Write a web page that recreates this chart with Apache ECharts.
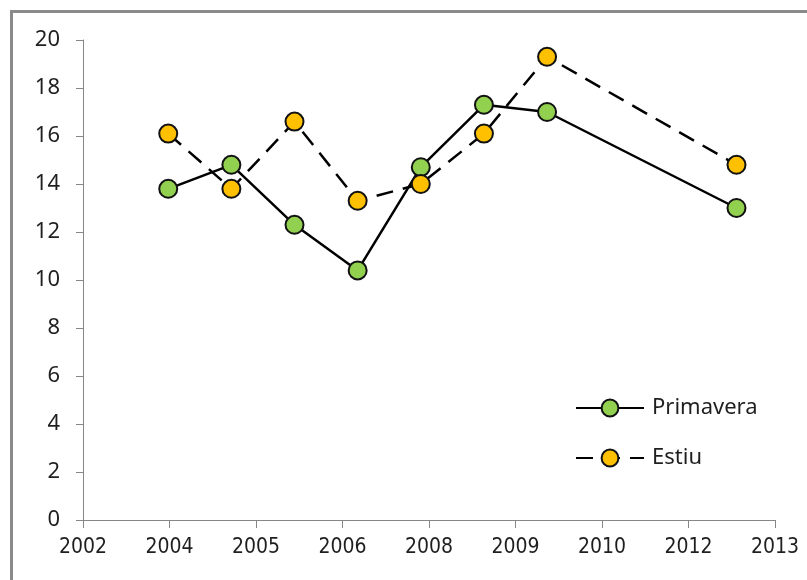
<!DOCTYPE html>
<html>
<head>
<meta charset="utf-8">
<script src="https://cdn.jsdelivr.net/npm/echarts@6/dist/echarts.min.js"></script>
<style>
  html, body { margin: 0; padding: 0; background: #fff; }
  #chart { width: 807px; height: 580px; }
</style>
</head>
<body>
<div id="chart"></div>
<script>
// Survey years and seasonal values
const years = [2004, 2005, 2006, 2007, 2008, 2009, 2010, 2013];
const primavera = [13.8, 14.8, 12.3, 10.4, 14.7, 17.3, 17.0, 13.0];
const estiu = [16.1, 13.8, 16.6, 13.3, 14.0, 16.1, 19.3, 14.8];

// Date-axis tick labels (the axis steps in ~1.37-year units, shown as year only)
const xTickLabels = ['2002', '2004', '2005', '2006', '2008', '2009', '2010', '2012', '2013'];
const timeStart = 2002.65;
const timeEnd = 2013.61;

const FONT = 'Noto Sans';
const FONT_NARROW = 'DejaVu Sans Condensed';
const TEXT = '#1f1f1f';
const AXIS = '#868686';

const chart = echarts.init(document.getElementById('chart'), null, { renderer: 'canvas' });

function pairs(xs, ys) { return xs.map((x, i) => [x, ys[i]]); }

const lineSeries = (name, values, color, dashed) => ({
  name: name,
  type: 'line',
  xAxisIndex: 1,
  data: pairs(years, values),
  symbol: 'circle',
  symbolSize: 18,
  lineStyle: { color: '#000', width: 2.5, type: dashed ? [17, 10] : 'solid', cap: 'butt' },
  itemStyle: { color: color, borderColor: '#111', borderWidth: 2 },
  emphasis: { disabled: true },
  animation: false
});

chart.setOption({
  animation: false,
  backgroundColor: '#fff',
  grid: { left: 83, top: 40, width: 692, height: 480, containLabel: false },
  graphic: [{
    type: 'rect',
    shape: { x: 11.5, y: 11.5, width: 900, height: 700 },
    style: { fill: 'none', stroke: '#8a8a8a', lineWidth: 3 },
    silent: true
  }],
  legend: {
    orient: 'vertical',
    left: 570,
    top: 392,
    itemWidth: 68,
    itemHeight: 21,
    itemGap: 28,
    textStyle: { fontFamily: FONT, fontSize: 22, color: TEXT, padding: [0, 0, 0, 3] },
    data: ['Primavera', 'Estiu']
  },
  xAxis: [{
    type: 'value',
    min: 0,
    max: xTickLabels.length - 1,
    interval: 1,
    axisLine: { show: true, lineStyle: { color: AXIS, width: 1 } },
    axisTick: { show: true, length: 8, lineStyle: { color: AXIS } },
    splitLine: { show: false },
    axisLabel: {
      margin: 17,
      fontFamily: FONT_NARROW, fontSize: 21, color: TEXT,
      formatter: v => xTickLabels[Math.round(v)]
    }
  }, {
    type: 'value',
    min: timeStart,
    max: timeEnd,
    show: false,
    splitLine: { show: false }
  }],
  yAxis: {
    type: 'value',
    min: 0,
    max: 20,
    interval: 2,
    axisLine: { show: true, lineStyle: { color: AXIS, width: 1 } },
    axisTick: { show: true, length: 7, lineStyle: { color: AXIS } },
    splitLine: { show: false },
    axisLabel: { margin: 23, fontFamily: FONT, fontSize: 22, color: TEXT }
  },
  series: [
    lineSeries('Primavera', primavera, '#92D050', false),
    lineSeries('Estiu', estiu, '#FFC000', true)
  ]
});
</script>
</body>
</html>
